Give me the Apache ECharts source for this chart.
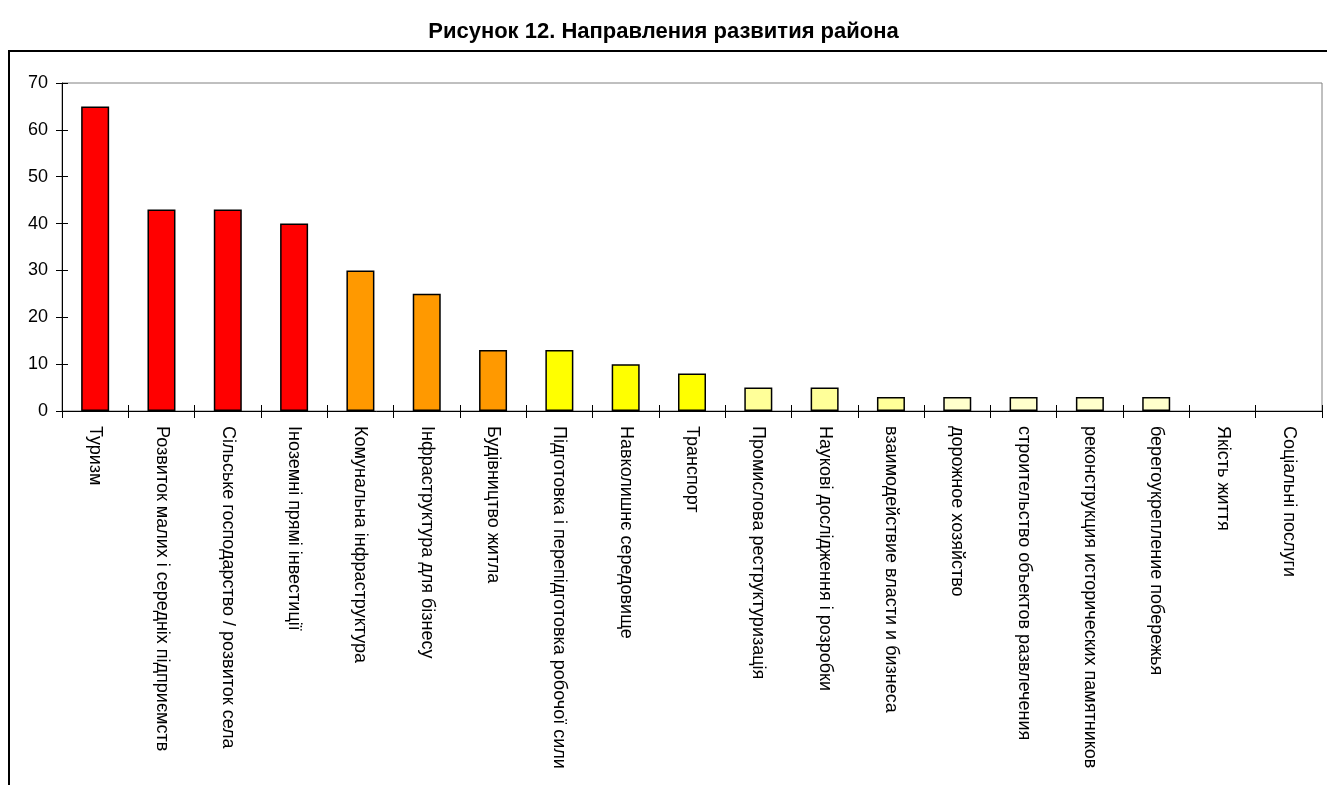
<!DOCTYPE html>
<html>
<head>
<meta charset="utf-8">
<title>Рисунок 12</title>
<script src="https://cdn.jsdelivr.net/npm/echarts@6/dist/echarts.min.js"></script>
<style>
  html, body { margin: 0; padding: 0; background: #fff; }
  #chart { width: 1327px; height: 785px; }
</style>
</head>
<body>
<div id="chart"></div>
<script>
// categories and values
var categories = [
    'Туризм',
    'Розвиток малих і середніх підприємств',
    'Сільське господарство / розвиток села',
    'Іноземні прямі інвестиції',
    'Комунальна інфраструктура',
    'Інфраструктура для бізнесу',
    'Будівництво житла',
    'Підготовка і перепідготовка робочої сили',
    'Навколишнє середовище',
    'Транспорт',
    'Промислова реструктуризація',
    'Наукові дослідження і розробки',
    'взаимодействие власти и бизнеса',
    'дорожное хозяйство',
    'строительство объектов развлечения',
    'реконструкция исторических памятников',
    'берегоукрепление побережья',
    'Якість життя',
    'Соціальні послуги'
];
var values = [65, 43, 43, 40, 30, 25, 13, 13, 10, 8, 5, 5, 3, 3, 3, 3, 3, 0, 0];
var yTicks = [0, 10, 20, 30, 40, 50, 60, 70];

// bar fill, one per category
var barColors = [
    '#ff0000', '#ff0000', '#ff0000', '#ff0000',
    '#ff9900', '#ff9900', '#ff9900',
    '#ffff00', '#ffff00', '#ffff00',
    '#ffff99', '#ffff99', '#ffff99',
    '#ffffcc', '#ffffcc', '#ffffcc', '#ffffcc',
    '#ffffcc', '#ffffcc'
];

var font = "'Liberation Sans', Arial, sans-serif";
var chart = echarts.init(document.getElementById('chart'));

var option = {
    animation: false,
    title: {
        text: 'Рисунок 12. Направления развития района',
        left: 'center',
        top: 16,
        textStyle: {
            fontFamily: "'Liberation Sans Narrow', 'Arial Narrow', 'Liberation Sans', sans-serif",
            fontWeight: 'bold',
            fontSize: 22,
            color: '#000'
        }
    },
    graphic: [{
        type: 'rect',
        shape: { x: 9, y: 51, width: 1340, height: 800 },
        style: { fill: 'none', stroke: '#000', lineWidth: 2 },
        silent: true
    }],
    grid: {
        left: 62,
        top: 83,
        right: 5,
        bottom: 374,
        show: true,
        borderColor: '#808080',
        borderWidth: 1,
        backgroundColor: 'transparent'
    },
    xAxis: [{
        type: 'category',
        data: categories,
        position: 'bottom',
        axisLine: { lineStyle: { color: '#000', width: 1 } },
        axisTick: { show: true, interval: 0, length: 7, lineStyle: { color: '#000' } },
        axisLabel: {
            interval: 0,
            rotate: -90,
            margin: 15,
            color: '#000',
            fontFamily: font,
            fontSize: 18
        },
        splitLine: { show: false }
    }, {
        type: 'category',
        data: categories,
        position: 'bottom',
        axisLine: { show: false },
        axisTick: { show: true, inside: true, interval: 0, length: 6, lineStyle: { color: '#000' } },
        axisLabel: { show: false },
        splitLine: { show: false }
    }],
    yAxis: [{
        type: 'value',
        min: yTicks[0],
        max: yTicks[yTicks.length - 1],
        interval: 10,
        axisLine: { show: true, lineStyle: { color: '#000', width: 1 } },
        axisTick: { show: true, length: 6, lineStyle: { color: '#000' } },
        axisLabel: { color: '#000', fontFamily: font, fontSize: 18, margin: 14 },
        splitLine: { show: false }
    }, {
        type: 'value',
        position: 'left',
        min: yTicks[0],
        max: yTicks[yTicks.length - 1],
        interval: 10,
        axisLine: { show: false },
        axisTick: { show: true, inside: true, length: 6, lineStyle: { color: '#000' } },
        axisLabel: { show: false },
        splitLine: { show: false }
    }],
    series: [{
        type: 'bar',
        xAxisIndex: 0,
        yAxisIndex: 0,
        barWidth: 28,
        data: values.map(function (v, i) {
            return {
                value: v,
                itemStyle: {
                    color: barColors[i],
                    borderColor: '#000',
                    borderWidth: v === 0 ? 0 : 1.5
                }
            };
        })
    }]
};

chart.setOption(option);
</script>
</body>
</html>
